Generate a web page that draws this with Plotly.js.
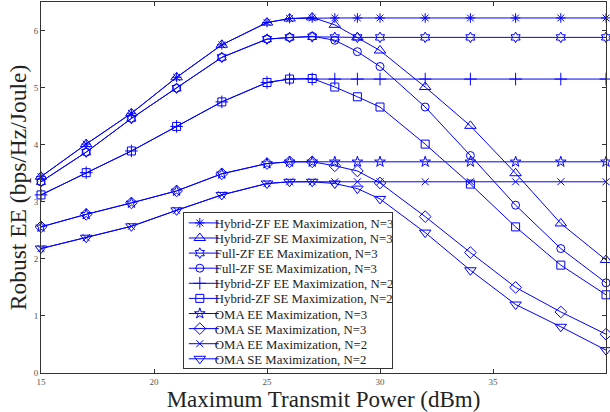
<!DOCTYPE html>
<html><head><meta charset="utf-8">
<script src="https://cdn.plot.ly/plotly-3.0.1.min.js"></script>
<style>html,body{margin:0;padding:0;background:#fff}#chart{width:610px;height:412px}</style>
</head><body><div id="chart"></div>
<script>
const power = [15,17,19,21,23,25,26,27,28,29,30,32,34,36,38,40];
const hybridZF_EE_N3 = [3.44,4.01,4.55,5.18,5.75,6.14,6.21,6.22,6.22,6.22,6.22,6.22,6.22,6.22,6.22,6.22];
const hybridZF_SE_N3 = [3.44,4.01,4.55,5.18,5.75,6.14,6.21,6.23,6.10,5.88,5.65,5.01,4.33,3.50,2.62,1.98];
const fullZF_EE_N3   = [3.35,3.87,4.46,4.99,5.53,5.85,5.88,5.89,5.88,5.88,5.88,5.88,5.88,5.88,5.88,5.88];
const fullZF_SE_N3   = [3.35,3.87,4.46,4.99,5.53,5.85,5.88,5.90,5.83,5.63,5.37,4.66,3.81,2.94,2.18,1.58];
const hybridZF_EE_N2 = [3.12,3.51,3.89,4.32,4.75,5.09,5.15,5.15,5.15,5.15,5.15,5.15,5.15,5.15,5.15,5.15];
const hybridZF_SE_N2 = [3.12,3.51,3.89,4.32,4.75,5.09,5.15,5.16,5.01,4.84,4.66,4.01,3.31,2.56,1.89,1.37];
const omaEE_N3       = [2.56,2.78,2.98,3.19,3.49,3.67,3.70,3.70,3.70,3.70,3.70,3.70,3.70,3.70,3.70,3.70];
const omaSE_N3       = [2.56,2.78,2.98,3.19,3.49,3.67,3.70,3.70,3.63,3.54,3.33,2.74,2.11,1.50,1.07,0.68];
const omaEE_N2       = [2.18,2.37,2.57,2.85,3.12,3.32,3.35,3.35,3.35,3.35,3.35,3.35,3.35,3.35,3.35,3.35];
const omaSE_N2       = [2.18,2.37,2.57,2.85,3.12,3.32,3.35,3.35,3.32,3.23,3.05,2.46,1.80,1.20,0.81,0.40];

const names = [
  'Hybrid-ZF EE Maximization, N=3','Hybrid-ZF SE Maximization, N=3',
  'Full-ZF EE Maximization, N=3','Full-ZF SE Maximization, N=3',
  'Hybrid-ZF EE Maximization, N=2','Hybrid-ZF SE Maximization, N=2',
  'OMA EE Maximization, N=3','OMA SE Maximization, N=3',
  'OMA EE Maximization, N=2','OMA SE Maximization, N=2'
];
const series = [hybridZF_EE_N3,hybridZF_SE_N3,fullZF_EE_N3,fullZF_SE_N3,hybridZF_EE_N2,hybridZF_SE_N2,omaEE_N3,omaSE_N3,omaEE_N2,omaSE_N2];
const symbols = ['asterisk-open','triangle-up-open','hexagram-open','circle-open','cross-thin-open','square-open','star-open','diamond-open','x-thin-open','triangle-down-open'];
const sizes = [8,10,8,8,9,8,8,9,7,10];
const blue = 'rgb(0,0,255)';

const traces = series.map((ys,i)=>({
  x: power, y: ys, name: names[i], type:'scatter', mode:'lines+markers',
  cliponaxis:false,
  line:{color:blue,width:1},
  marker:{symbol:symbols[i],size:sizes[i],color:blue,line:{color:blue,width:1}}
}));

const serif = 'Liberation Serif, Times New Roman, serif';
const layout = {
  width:610,height:412,
  margin:{l:41,r:4,t:2,b:39},
  paper_bgcolor:'#fff',plot_bgcolor:'#fff',
  font:{family:serif,color:'#333'},
  showlegend:true,
  legend:{x:0.251,y:0.012,xanchor:'left',yanchor:'bottom',bgcolor:'#fff',
    bordercolor:'#333',borderwidth:1,font:{family:serif,size:12.8,color:'#222'},
    itemwidth:30,tracegroupgap:0},
  xaxis:{range:[15,40],tickvals:[15,20,25,30,35,40],ticks:'inside',ticklen:4,
    tickcolor:'#333',showline:true,linecolor:'#333',linewidth:1,mirror:'ticks',
    showgrid:false,zeroline:false,tickfont:{family:serif,size:9,color:'#555'},
    title:{text:'Maximum Transmit Power (dBm)',font:{family:serif,size:23,color:'#222'},standoff:0}},
  yaxis:{range:[0,6.5],tickvals:[0,1,2,3,4,5,6],ticks:'inside',ticklen:4,
    tickcolor:'#333',showline:true,linecolor:'#333',linewidth:1,mirror:'ticks',
    showgrid:false,zeroline:false,tickfont:{family:serif,size:9,color:'#555'},
    title:{text:'Robust EE (bps/Hz/Joule)',font:{family:serif,size:23.5,color:'#222'},standoff:0}}
};

// Tighten the legend rows (Plotly enforces a 19px minimum row height).
function compactLegend(gd){
  try{
    const leg = gd.querySelector('g.legend');
    if(!leg) return;
    const parse = t => { const m = /translate\(\s*([-\d.e]+)[\s,]+([-\d.e]+)\s*\)/.exec(t||''); return m?[+m[1],+m[2]]:null; };
    const items = Array.from(leg.querySelectorAll('g.traces'));
    if(!items.length) return;
    const step = 15.1, firstY = 10.6, boxH = 156, boxW = 209.5, textShift = 9, topPx = 212.3;
    items.forEach((it,i)=>{
      const p = parse(it.getAttribute('transform')) || [1,0];
      it.setAttribute('transform','translate('+p[0]+','+(firstY+i*step)+')');
      const txt = it.querySelector('text.legendtext');
      if(txt){ const x = +txt.getAttribute('x'); txt.setAttribute('x', x-textShift);
        txt.querySelectorAll('tspan[x]').forEach(s=>s.setAttribute('x', +s.getAttribute('x')-textShift)); }
      const pts = it.querySelector('g.legendpoints');
      if(pts){ pts.setAttribute('transform','translate(-4,0)'); }
    });
    const bg = leg.querySelector('rect.bg');
    if(bg){ bg.setAttribute('height', boxH); bg.setAttribute('width', boxW); }
    const lp = parse(leg.getAttribute('transform'));
    if(lp) leg.setAttribute('transform','translate('+lp[0]+','+topPx+')');
  }catch(e){ console.error(e); }
}

Plotly.newPlot('chart',traces,layout,{displayModeBar:false,staticPlot:true}).then(compactLegend);
</script></body></html>
